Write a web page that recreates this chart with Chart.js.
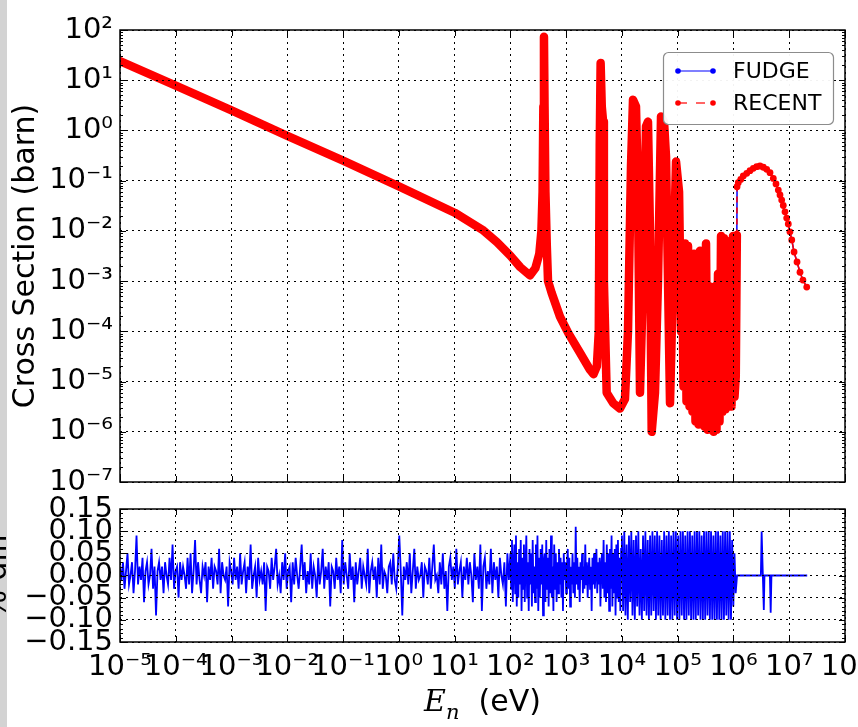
<!DOCTYPE html>
<html>
<head>
<meta charset="utf-8">
<script src="https://cdn.jsdelivr.net/npm/chart.js@4.4.0/dist/chart.umd.min.js"></script>
<style>
  html, body { margin: 0; padding: 0; background: #fff; }
  #wrap { position: relative; width: 858px; height: 727px; overflow: hidden; }
  #edge { position: absolute; left: 0; top: 0; width: 7px; height: 727px; background: #d3d3d3; }
  canvas { position: absolute; left: 0; top: 0; }
</style>
</head>
<body>
<div id="wrap">
  <div id="edge"></div>
  <canvas id="xsCanvas" width="858" height="727"></canvas>
  <canvas id="diffCanvas" width="858" height="727"></canvas>
</div>
<script>
// axis decades
const energyExps = [-5, -4, -3, -2, -1, 0, 1, 2, 3, 4, 5, 6, 7, 8];
const xsExps = [-7, -6, -5, -4, -3, -2, -1, 0, 1, 2];
const diffTicks = [-0.15, -0.10, -0.05, 0, 0.05, 0.10, 0.15];

// cross section (barn); FUDGE and RECENT overlap at this scale
const energyEv = [
  1e-5, 1e-4, 1e-3, 1e-2, 0.1, 1, 10, 31.6, 57, 100, 150, 224, 280, 330, 360, 378, 390, 400, 410, 425, 450, 473,
  550, 776, 1100, 1780, 2690, 3090, 3550, 3850, 4000, 4150, 4350, 4600, 4750, 5330, 7000, 9230, 11340,
  12850, 14550, 15800, 17880, 19420, 21090, 23880, 27040, 29330, 31860, 34180, 39180, 44360, 50230,
  56880, 61770, 67090, 72850, 82490, 93410, 105800, 114900,
  1.194e5, 1.271e5, 1.352e5, 1.439e5, 1.531e5, 1.629e5, 1.734e5, 1.841e5, 1.959e5, 2.084e5,
  2.218e5, 2.360e5, 2.512e5, 2.673e5, 2.844e5, 3.027e5, 3.221e5, 3.420e5, 3.639e5, 3.873e5,
  4.121e5, 4.385e5, 4.667e5, 4.966e5, 5.284e5, 5.623e5, 5.984e5, 6.353e5, 6.761e5, 7.194e5,
  7.656e5, 8.147e5, 8.670e5, 9.226e5, 9.817e5, 1.045e6, 1.10e6, 1.15e6,
  1.16e6, 1.22e6, 1.35e6, 1.50e6, 1.73e6, 1.98e6, 2.27e6, 2.61e6, 2.99e6, 3.43e6, 3.94e6, 4.52e6,
  5.18e6, 5.79e6, 6.37e6, 6.83e6, 7.33e6, 7.82e6, 8.40e6, 9.00e6, 9.62e6, 1.03e7, 1.11e7, 1.22e7,
  1.38e7, 1.56e7, 1.76e7, 2.06e7
];
const crossSection = [
  24, 7.8, 2.5, 0.78, 0.25, 0.077, 0.023, 0.0105, 0.006, 0.0032, 0.0019, 0.0013, 0.0018, 0.0035, 0.01, 0.06, 3, 73, 3, 0.06, 0.005, 0.001,
  5.8e-4, 1.95e-4, 9.1e-5, 3.7e-5, 1.7e-5, 1.4e-5, 2e-5, 1e-4, 0.5, 22, 3, 1.5, 1e-3, 6e-6, 3.7e-6, 2.9e-6, 4.5e-6,
  1e-4, 0.2, 4.1, 3, 0.05, 6e-6, 1e-3, 1.2, 1.5, 0.01, 1e-6, 6e-6, 1e-3, 1.9,
  1.5, 0.3, 1e-3, 3.7e-6, 1e-3, 0.24, 0.06, 1e-4,
  5.0e-3, 7.9e-6, 5.6e-3, 4.0e-6, 5.0e-3, 3.2e-6, 1.6e-3, 2.5e-6, 3.5e-3, 1.6e-6,
  3.2e-3, 1.4e-6, 4.0e-3, 1.6e-6, 2.5e-3, 1.26e-6, 5.6e-3, 1.1e-6, 7.9e-4, 1.26e-6,
  6.3e-4, 1.0e-6, 7.9e-4, 1.1e-6, 1.4e-3, 1.6e-6, 7.9e-3, 2.5e-6, 7.1e-3, 2.8e-6,
  3.2e-3, 3.2e-6, 6.3e-3, 3.2e-6, 7.9e-3, 5.0e-6, 1.26e-5, 8.3e-3,
  0.076, 0.091, 0.106, 0.124, 0.140, 0.158, 0.176, 0.190, 0.196, 0.185, 0.168, 0.144,
  0.111, 0.086, 0.065, 0.052, 0.041, 0.032, 0.024, 0.018, 0.0137, 0.0096, 0.0066, 0.0038,
  0.0024, 0.0015, 0.00105, 7.6e-4
];
const thresholdEv = 1.16e6;

// % diff, in three energy bands plus the flat tail
const diffBands = [[1e-5, 1e2], [1e2, 1e4], [1e4, 1.15e6]];
const diffLow = [
  .02, -.01, .03, -.03, .01, .05, -.02, .00, .03, -.04, .01, .09, -.02, .02, -.01, .04, -.06, .01, .03, -.02,
  .00, .06, -.03, .02, -.09, .01, .03, -.01, .02, -.04, .03, .00, -.02, .04, -.01, .07, -.03, .01, .02, -.05,
  .03, -.01, .02, .00, -.03, .04, -.02, .05, -.04, .01, .08, -.02, .03, -.01, -.04, .02, .00, .03, -.06, .02,
  -.01, .04, -.03, .02, .01, -.02, .06, -.04, .03, .00, -.01, .02, -.07, .03, .01, -.02, .04, -.01, .02, -.03,
  .05, -.02, .01, .03, -.04, .02, -.01, .07, -.03, .00, .02, -.05, .04, -.01, .01, -.02, .03, -.08, .02, .01,
  -.03, .04, -.01, .02, .06, -.02, .00, -.04, .03, -.01, .05, -.03, .01, .02, -.06, .03, -.02, .04, .00, -.03,
  .02, .07, -.01, .03, -.04, .01, -.02, .05, -.03, .02, .00, -.05, .04, -.02, .01, .06, -.03, .02, -.01, .03,
  -.07, .02, .01, -.03, .04, -.01, .02, -.04, .08, -.02, .03, .00, -.03, .05, -.01, .02, -.06, .03, -.02, .01,
  .04, -.03, .02, .00, -.02, .06, -.04, .01, .03, -.01, .02, -.05, .04, -.02, .07, -.03, .01, .00, -.04, .02,
  .03, -.02, .05, -.01, -.03, .02, .09, .01, -.09, .02, -.01, .03, -.02, .05, -.04, .01, .06, -.03, .02, -.01,
  .00, .03, -.05, .02, .01, -.02, .04, -.03, .02, .07, -.01, .00, -.04, .03, -.02, .05, -.03, .01, -.08, .02,
  .04, -.01, .02, -.03, .06, -.02, .01, .03, -.05, .02, -.01, .04, -.02, .03, .00, -.06, .05, -.01, .02, -.03,
  .07, -.08, .02, .04, -.03, .01, -.02, .06, -.04, .03, -.01, .02, -.05, .04, .00, -.02, .03, -.07, .05, -.01
];
const diffMid = [
  .05, -.03, .08, -.06, .02, .07, -.04, .09, -.07, .03, -.05, .06, -.02, .08, -.08, .04, -.03, .07, -.06, .02,
  .09, -.05, .03, -.08, .06, -.02, .05, -.07, .08, -.04, .02, -.06, .07, -.03, .09, -.08, .04, -.05, .06, -.02,
  .07, -.09, .03, .05, -.06, .08, -.03, .04, -.07, .06, -.04, .09, -.05, .02, -.08, .07, -.03, .05, -.06, .03,
  -.04, .06, -.02, .04, -.05, .03, -.08, .05, -.01, .03, -.04, .02, .06, -.03, .04, -.07, .02, -.02, .05, -.04,
  .03, -.05, .11, -.02, .04, -.03, .02, -.06, .03, -.01, .05, -.04, .02, -.03, .07, -.02, .03, -.05, .01, .04,
  -.03, .02, -.08, .04, -.02, .05, -.03, .01, .06, -.04, .03, -.02, .04, -.07, .02, .05, -.03, .08, -.05, .03,
  -.06, .07, -.04, .05, -.08, .06, -.03, .09, -.07, .05, -.04, .06, -.09, .07, -.05, .08, -.06, .04, -.08, .06
];
const diffHigh = [
  .09, -.08, .10, -.09, .07, -.10, .09, -.06, .10, -.09, .08, -.10, .09, -.07, .10, -.09, .06, -.10, .09, -.08,
  .10, -.09, .08, -.10, .09, -.09, .10, -.08, .09, -.10, .10, -.09, .09, -.10, .08, -.09, .10, -.10, .09, -.09,
  .10, -.10, .09, -.10, .10, -.09, .10, -.10, .09, -.10, .10, -.09, .10, -.10, .09, -.10, .10, -.09, .10, -.10,
  .09, -.10, .10, -.10, .10, -.09, .10, -.10, .09, -.10, .10, -.10, .10, -.09, .10, -.10, .10, -.10, .09, -.10,
  .10, -.10, .10, -.10, .09, -.10, .10, -.10, .10, -.09, .10, -.10, .10, -.10, .08, -.07, .05, -.04
];
const diffTailEv = [1.16e6, 3.1e6, 3.2e6, 3.5e6, 3.6e6, 4.5e6, 4.65e6, 4.8e6, 2.1e7];
const diffTail = [0, 0, 0.099, -0.078, 0, 0, -0.084, 0, 0];

const FONT = 'DejaVu Sans';
Chart.defaults.font.family = FONT;
Chart.defaults.color = '#000';

const SUP = {'-': '\u207B', '0': '\u2070', '1': '\u00B9', '2': '\u00B2', '3': '\u00B3',
  '4': '\u2074', '5': '\u2075', '6': '\u2076', '7': '\u2077', '8': '\u2078', '9': '\u2079'};
const powerLabel = v => '10' + String(Math.round(Math.log10(v))).split('').map(c => SUP[c]).join('');
const decadeTicks = exps => s => { s.ticks = exps.map(e => ({value: Math.pow(10, e)})); };

const xsPoints = energyEv.map((e, i) => ({x: e, y: crossSection[i]}));

function bandPoints(range, values) {
  const lo = Math.log10(range[0]), hi = Math.log10(range[1]);
  return values.map((v, i) => ({x: Math.pow(10, lo + (hi - lo) * i / values.length), y: v}));
}
const diffPoints = [
  ...bandPoints(diffBands[0], diffLow),
  ...bandPoints(diffBands[1], diffMid),
  ...bandPoints(diffBands[2], diffHigh),
  ...diffTailEv.map((e, i) => ({x: e, y: diffTail[i]}))
];

// frame with inward ticks, like the original figure
const framePlugin = {
  id: 'frame',
  afterDraw(chart, args, opts) {
    const {ctx, chartArea: a, scales: {x, y}} = chart;
    ctx.save();
    ctx.strokeStyle = '#000';
    ctx.lineWidth = 1;
    ctx.beginPath();
    x.ticks.forEach(t => {
      const px = Math.round(x.getPixelForValue(t.value)) + 0.5;
      ctx.moveTo(px, a.top); ctx.lineTo(px, a.top + 6);
      ctx.moveTo(px, a.bottom); ctx.lineTo(px, a.bottom - 6);
    });
    y.ticks.forEach(t => {
      const py = Math.round(y.getPixelForValue(t.value)) + 0.5;
      ctx.moveTo(a.left, py); ctx.lineTo(a.left + 6, py);
      ctx.moveTo(a.right, py); ctx.lineTo(a.right - 6, py);
    });
    (opts.yMinor || []).forEach(v => {
      const py = Math.round(y.getPixelForValue(v)) + 0.5;
      ctx.moveTo(a.left, py); ctx.lineTo(a.left + 3, py);
      ctx.moveTo(a.right, py); ctx.lineTo(a.right - 3, py);
    });
    ctx.stroke();
    ctx.lineWidth = 1.5;
    ctx.strokeRect(a.left, a.top, a.right - a.left, a.bottom - a.top);
    ctx.restore();
  }
};

// legend with line + markers, drawn from the datasets
const legendPlugin = {
  id: 'lineLegend',
  afterDraw(chart) {
    const {ctx, chartArea: a} = chart;
    const w = 170, h = 72, bx = a.right - 12 - w, by = a.top + 22;
    ctx.save();
    ctx.beginPath();
    ctx.roundRect(bx + 0.5, by + 0.5, w, h, 5);
    ctx.fillStyle = 'rgba(255,255,255,0.95)';
    ctx.fill();
    ctx.strokeStyle = '#8c8c8c';
    ctx.lineWidth = 1.2;
    ctx.stroke();
    chart.data.datasets.forEach((ds, i) => {
      const ly = by + 19 + i * 32, x0 = bx + 15, x1 = bx + 50;
      ctx.strokeStyle = ds.borderColor;
      ctx.fillStyle = ds.borderColor;
      ctx.lineWidth = 1.2;
      ctx.setLineDash(ds.legendDash || []);
      ctx.beginPath(); ctx.moveTo(x0, ly); ctx.lineTo(x1, ly); ctx.stroke();
      ctx.setLineDash([]);
      [x0, x1].forEach(px => { ctx.beginPath(); ctx.arc(px, ly, 2.8, 0, Math.PI * 2); ctx.fill(); });
      ctx.fillStyle = '#000';
      ctx.font = '22px "' + FONT + '"';
      ctx.textBaseline = 'middle';
      ctx.fillText(ds.label, bx + 70, ly + 1);
    });
    ctx.restore();
  }
};

// E_n (eV) with italic E and subscript n
const energyTitlePlugin = {
  id: 'energyTitle',
  afterDraw(chart) {
    const {ctx, chartArea: a} = chart;
    const cx = (a.left + a.right) / 2, base = 711;
    ctx.save();
    ctx.fillStyle = '#000';
    ctx.textBaseline = 'alphabetic';
    const fE = 'italic 30px "DejaVu Serif"', fn = 'italic 21px "DejaVu Serif"', fr = '30px "' + FONT + '"';
    ctx.font = fE; const wE = ctx.measureText('E').width;
    ctx.font = fn; const wn = ctx.measureText('n').width;
    ctx.font = fr; const wr = ctx.measureText('(eV)').width;
    const gap = 19;
    let x = cx - (wE + wn + gap + wr) / 2;
    ctx.font = fE; ctx.fillText('E', x, base); x += wE;
    ctx.font = fn; ctx.fillText('n', x, base + 8); x += wn + gap;
    ctx.font = fr; ctx.fillText('(eV)', x, base);
    ctx.restore();
  }
};

const xsMinor = [];
xsExps.slice(0, -1).forEach(e => { for (let m = 2; m <= 9; m++) xsMinor.push(m * Math.pow(10, e)); });
const diffMinor = [];
for (let k = -15; k <= 15; k++) if (k % 5 !== 0) diffMinor.push(k / 100);

const gridStyle = {color: '#000', lineWidth: 1, drawTicks: false, z: 1};
const dotted = {display: false, dash: [2, 4]};

new Chart(document.getElementById('xsCanvas'), {
  type: 'line',
  data: {
    datasets: [
      {
        label: 'FUDGE', data: xsPoints, order: 1,
        borderColor: '#0000ff', backgroundColor: '#0000ff',
        borderWidth: 1.5, pointRadius: 0, tension: 0
      },
      {
        label: 'RECENT', data: xsPoints, order: 0, legendDash: [9, 9],
        borderColor: '#ff0000', backgroundColor: '#ff0000',
        borderJoinStyle: 'round', borderCapStyle: 'round', tension: 0,
        pointRadius: ctx => (ctx.raw && ctx.raw.x >= thresholdEv ? 3.4 : 0),
        pointBorderWidth: 0,
        segment: {
          borderWidth: ctx => (ctx.p0.parsed.x >= 1.15e6 ? 1.5 : 8.5),
          borderDash: ctx => (ctx.p0.parsed.x < thresholdEv && ctx.p1.parsed.x >= thresholdEv ? [5, 6] : [])
        }
      }
    ]
  },
  options: {
    responsive: false,
    animation: false,
    layout: {padding: {left: 0, right: 13, top: 30, bottom: 245}},
    plugins: {legend: {display: false}, tooltip: {enabled: false}, frame: {yMinor: xsMinor}},
    scales: {
      x: {
        type: 'logarithmic', min: 1e-5, max: 1e8,
        afterBuildTicks: decadeTicks(energyExps),
        ticks: {display: false},
        grid: gridStyle, border: dotted,
        afterFit: s => { s.height = 0; s.paddingLeft = 0; s.paddingRight = 0; }
      },
      y: {
        type: 'logarithmic', min: 1e-7, max: 1e2,
        afterBuildTicks: decadeTicks(xsExps),
        ticks: {autoSkip: false, padding: 7, font: {size: 29}, callback: v => powerLabel(v)},
        grid: gridStyle, border: dotted,
        title: {display: true, text: 'Cross Section (barn)', font: {size: 30}, padding: {top: 8}},
        afterFit: s => { s.width = 120; s.paddingTop = 0; s.paddingBottom = 0; }
      }
    }
  },
  plugins: [framePlugin, legendPlugin]
});

new Chart(document.getElementById('diffCanvas'), {
  type: 'line',
  data: {
    datasets: [{
      label: '% diff', data: diffPoints,
      borderColor: '#0000ff', borderWidth: 1.8, pointRadius: 0, tension: 0
    }]
  },
  options: {
    responsive: false,
    animation: false,
    layout: {padding: {left: 0, right: 13, top: 509, bottom: 0}},
    plugins: {legend: {display: false}, tooltip: {enabled: false}, frame: {yMinor: diffMinor}},
    scales: {
      x: {
        type: 'logarithmic', min: 1e-5, max: 1e8,
        afterBuildTicks: decadeTicks(energyExps),
        ticks: {autoSkip: false, maxRotation: 0, minRotation: 0, padding: 8, font: {size: 29}, callback: v => powerLabel(v)},
        grid: gridStyle, border: dotted,
        afterFit: s => { s.height = 85; s.paddingLeft = 0; s.paddingRight = 0; }
      },
      y: {
        type: 'linear', min: -0.15, max: 0.15,
        afterBuildTicks: s => { s.ticks = diffTicks.map(v => ({value: v})); },
        ticks: {autoSkip: false, padding: 7, font: {size: 29},
          callback: v => (v < -1e-9 ? '\u2212' : '') + Math.abs(v).toFixed(2)},
        grid: gridStyle, border: dotted,
        title: {display: true, text: '% diff', font: {size: 30}, padding: {top: -20}},
        afterFit: s => { s.width = 120; s.paddingTop = 0; s.paddingBottom = 0; }
      }
    }
  },
  plugins: [framePlugin, energyTitlePlugin]
});
</script>
</body>
</html>
